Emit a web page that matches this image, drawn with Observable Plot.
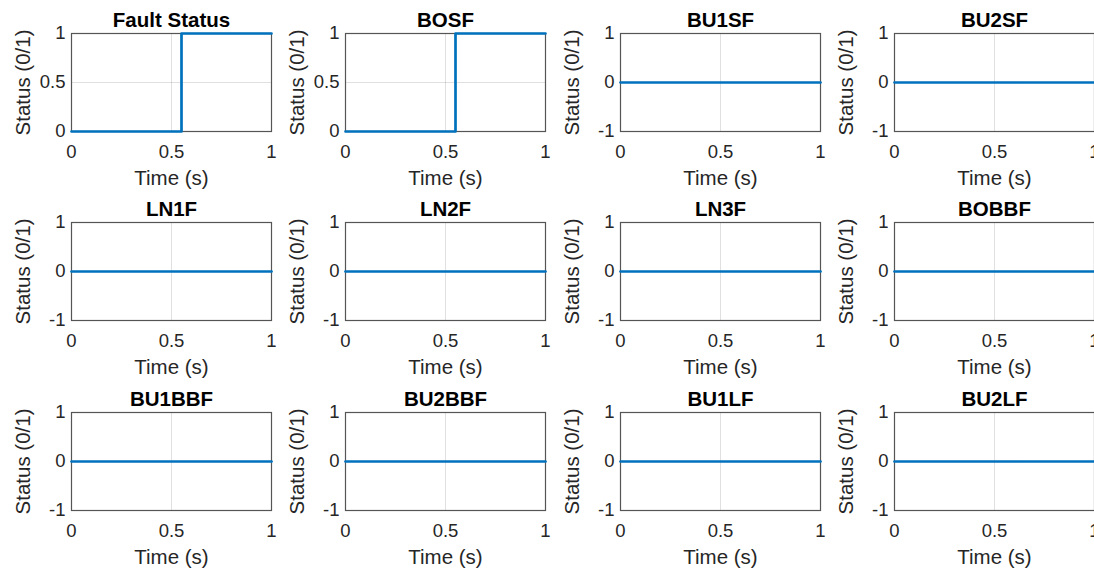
<!DOCTYPE html>
<html>
<head>
<meta charset="utf-8">
<script src="https://cdn.jsdelivr.net/npm/d3@7"></script>
<script src="https://cdn.jsdelivr.net/npm/@observablehq/plot@0.6"></script>
<style>
  body { margin: 0; background: #fff; }
  #wrap { position: relative; width: 1094px; height: 573px; overflow: hidden; background: #fff; }
  .cell { position: absolute; }
  .cell svg { overflow: visible; max-width: none !important; }
</style>
</head>
<body>
<div id="wrap"></div>
<script>
// ---- data ----
const panelTitles = ["Fault Status", "BOSF", "BU1SF", "BU2SF",
                     "LN1F", "LN2F", "LN3F", "BOBBF",
                     "BU1BBF", "BU2BBF", "BU1LF", "BU2LF"];
const faultTime = [0, 0.55, 1];
const faultStatus = [0, 1, 1];
const bosfTime = [0, 0.55, 1];
const bosfStatus = [0, 1, 1];
const flatTime = [0, 1];
const flatStatus = [0, 0];
const xTicks = [0, 0.5, 1];
const yTicksStep = [0, 0.5, 1];
const yTicksFlat = [-1, 0, 1];
const xLabel = "Time (s)";
const yLabel = "Status (0/1)";

const series = panelTitles.map((title, i) => {
  let t = flatTime, s = flatStatus, ticks = yTicksFlat;
  if (i === 0) { t = faultTime; s = faultStatus; ticks = yTicksStep; }
  if (i === 1) { t = bosfTime; s = bosfStatus; ticks = yTicksStep; }
  return {title, data: t.map((v, k) => ({t: v, s: s[k]})), ticks};
});

// ---- layout ----
const frameLefts = [70.5, 345, 620, 894];
const frameTops = [33, 222, 412];
const mL = 70, mR = 10, mT = 33, mB = 59;
const W = mL + 200 + mR, H = mT + 98 + mB;

const wrap = document.getElementById("wrap");
series.forEach((p, i) => {
  const row = Math.floor(i / 4), col = i % 4;
  const yDomain = [p.ticks[0], p.ticks[p.ticks.length - 1]];
  const chart = Plot.plot({
    width: W, height: H,
    marginLeft: mL, marginRight: mR, marginTop: mT, marginBottom: mB,
    style: {fontFamily: "'Liberation Sans', Arial, sans-serif", fontSize: "18.5px", color: "#262626", background: "transparent"},
    x: {domain: [0, 1]},
    y: {domain: yDomain},
    marks: [
      Plot.gridX(xTicks, {stroke: "#000", strokeOpacity: 0.12, strokeWidth: 1}),
      Plot.gridY(p.ticks, {stroke: "#000", strokeOpacity: 0.12, strokeWidth: 1}),
      Plot.frame({stroke: "#555", strokeWidth: 1.2}),
      Plot.line(p.data, {x: "t", y: "s", curve: "step-after", stroke: "#0072BD", strokeWidth: 2.7}),
      Plot.axisX({ticks: xTicks, tickSize: 0, tickPadding: 13, label: null, tickFormat: d => String(d)}),
      Plot.axisY({ticks: p.ticks, tickSize: 0, tickPadding: 6, label: null, tickFormat: d => String(d)}),
      Plot.text([p.title], {text: d => d, frameAnchor: "top", dy: -7, lineAnchor: "bottom", fontWeight: "bold", fontSize: 20.5, fill: "#000"}),
      Plot.text([xLabel], {text: d => d, frameAnchor: "bottom", dy: 47, lineAnchor: "middle", fontSize: 20.5, fill: "#262626"}),
      Plot.text([yLabel], {text: d => d, frameAnchor: "left", dx: -48, rotate: -90, textAnchor: "middle", lineAnchor: "middle", fontSize: 20.5, fill: "#262626"})
    ]
  });
  const div = document.createElement("div");
  div.className = "cell";
  div.style.left = (frameLefts[col] - mL) + "px";
  div.style.top = (frameTops[row] - mT) + "px";
  div.style.width = W + "px";
  div.style.height = H + "px";
  div.appendChild(chart);
  wrap.appendChild(div);
});
</script>
</body>
</html>
